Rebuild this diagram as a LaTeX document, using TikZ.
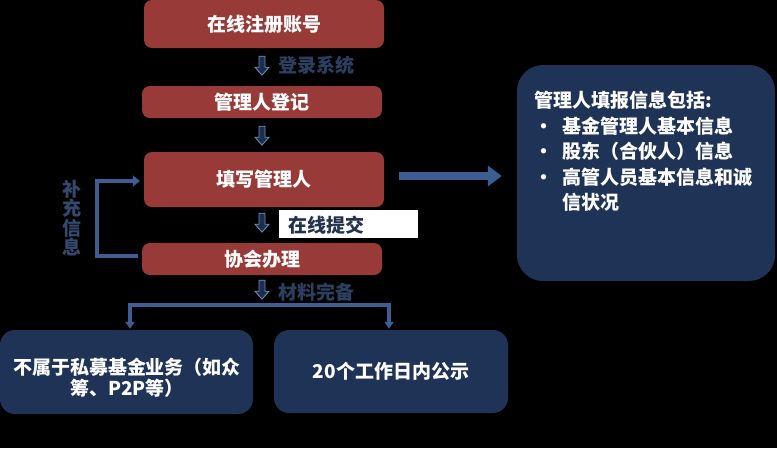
\documentclass[tikz,border=0pt]{standalone}
\usepackage{fontspec}
\setmainfont{Noto Sans CJK SC}[BoldFont={Noto Sans CJK SC Black}]
\usetikzlibrary{arrows.meta,calc}
\definecolor{redbox}{HTML}{983A38}
\definecolor{navybox}{HTML}{1F3357}
\definecolor{arrowblue}{HTML}{3C5E94}
\definecolor{labelblue}{HTML}{2C3F60}
\definecolor{sidelabel}{HTML}{34496E}
\definecolor{arrowedge}{HTML}{6F8FBF}
\definecolor{arrowfill}{HTML}{1C2E4E}
\tikzset{
  boxfont/.style={font=\bfseries\fontsize{19}{22}\selectfont},
  redstep/.style={boxfont, fill=redbox, rounded corners=8pt, text=white, inner sep=0pt},
  navystep/.style={boxfont, fill=navybox, text=white, inner sep=0pt, align=center},
  flowlabel/.style={boxfont, text=labelblue, inner sep=0pt},
  bluearrow/.style={draw=arrowblue, line width=3.5pt},
  downblock/.pic={\filldraw[fill=arrowfill, draw=arrowedge, line width=0.8pt]
     (-3,0) -- (3,0) -- (3,11) -- (7,11) -- (0,19) -- (-7,11) -- (-3,11) -- cycle;}
}
\begin{document}
\begin{tikzpicture}[x=1pt,y=-1pt]
\fill[black] (0,0) rectangle (777,448);
\useasboundingbox (0,0) rectangle (777,448);

% main steps
\node[redstep, minimum width=240pt, minimum height=48pt] (b1) at (264,24) {在线注册账号};
\node[redstep, minimum width=240pt, minimum height=32pt] (b2) at (262,102) {管理人登记};
\node[redstep, minimum width=240pt, minimum height=55pt] (b3) at (264,179.5) {填写管理人};
\node[redstep, minimum width=240pt, minimum height=32pt] (b4) at (262,259) {协会办理};

% info box
\node[navystep, rounded corners=26pt, minimum width=258pt, minimum height=216pt] (info) at (646,173) {};
\node[boxfont, text=white, anchor=north west, align=left, inner sep=0pt,
      font=\bfseries\fontsize{19}{25.5}\selectfont] (infotext) at (534,91)
  {管理人填报信息包括:\\
   \makebox[28pt][l]{•}基金管理人基本信息\\
   \makebox[28pt][l]{•}股东（合伙人）信息\\
   \makebox[28pt][l]{•}高管人员基本信息和诚\\
   \hspace*{28pt}信状况};

% bottom boxes
\node[navystep, rounded corners=15pt, minimum width=253pt, minimum height=84pt] (bl) at (126.5,372) {};
\node[navystep, font=\bfseries\fontsize{19}{21}\selectfont] (bltext) at (127,378)
  {不属于私募基金业务（如众\\筹、P2P等）};
\node[navystep, rounded corners=15pt, minimum width=234pt, minimum height=83pt] (br) at (391,371.5)
  {20个工作日内公示};

% white label
\node[fill=white, minimum width=139pt, minimum height=28pt, inner sep=0pt] (wl) at (348.5,224) {};
\node[boxfont, text=labelblue!80!black, anchor=west, inner sep=0pt] (wltext) at (288,225) {在线提交};

% labels
\node[flowlabel] (l1) at (316,65) {登录系统};
\node[flowlabel] (l4) at (316,292) {材料完备};
\node[boxfont, text=sidelabel, align=center, inner sep=0pt,
      font=\bfseries\fontsize{19}{19.5}\selectfont] (side) at (72,218) {补\\充\\信\\息};

% down block arrows
\pic at ($(b1.south)+(-2,8)$) {downblock};
\pic at ($(b2.south)+(0,8)$) {downblock};
\pic at ($(b3.south)+(-2,6)$) {downblock};
\pic at ($(b4.south)+(0,5)$) {downblock};

% arrow to info box
\coordinate (hstart) at ($(b3.east)+(15,-3.5)$);
\coordinate (hend) at ($(info.west)+(-15,0)$);
\draw[draw=arrowblue, line width=8pt, -{Triangle[length=14pt,width=20pt]}]
  (hstart) -- (hend |- hstart);

% feedback bracket
\draw[bluearrow, -{Triangle[length=7pt,width=11pt]}]
  ($(b4.west)+(-4,-3)$) -- ++(-41,0) |- ($(b3.west)+(-4,1.5)$);

% split bracket
\draw[bluearrow, {Triangle[length=7pt,width=9pt]}-{Triangle[length=7pt,width=9pt]}]
  ($(bl.north)+(3.5,-1)$) -- ++(0,-24) -| ($(br.north)+(-2,-1)$);
\end{tikzpicture}
\end{document}
